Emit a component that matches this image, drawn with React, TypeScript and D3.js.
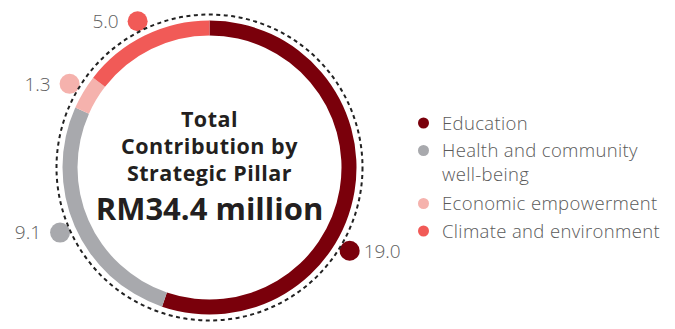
import React from "react";
import * as d3 from "d3";

const categories = ["Education", "Health and community well-being", "Economic empowerment", "Climate and environment"];
const legendLines = [["Education"], ["Health and community", "well-being"], ["Economic empowerment"], ["Climate and environment"]];
const values = [19.0, 9.1, 1.3, 5.0];
const valueLabels = ["19.0", "9.1", "1.3", "5.0"];
const colors = ["#7a000b", "#a8a9ad", "#f5b2ad", "#f15a57"];
const titleLines = ["Total", "Contribution by", "Strategic Pillar"];
const totalLabel = "RM34.4 million";

const W = 675, H = 329;
const cx = 209.5, cy = 167.5;
const outerR = 147, innerR = 132;
const dashR = 153;
const dotDist = 163;
const dotR = 10;

export default function App() {
  const pie = d3.pie<number>().sort(null).value((d) => d)(values);
  const arc = d3.arc<d3.PieArcDatum<number>>().innerRadius(innerR).outerRadius(outerR);
  const font = "'Open Sans', sans-serif";

  const labelAngle = (p: d3.PieArcDatum<number>, i: number) => {
    const f = i === 0 ? 0.607 : 0.5;
    return p.startAngle + (p.endAngle - p.startAngle) * f;
  };

  const legendRows: { y: number; lines: string[]; i: number }[] = [];
  let ly = 123;
  legendLines.forEach((lines, i) => {
    legendRows.push({ y: ly, lines, i });
    ly += lines.length > 1 ? 53 : 27.5;
  });

  return (
    <svg width={W} height={H} style={{ position: "absolute", left: 0, top: 0 }} fontFamily={font}>
      <rect width={W} height={H} fill="#fff" />
      <g transform={`translate(${cx},${cy})`}>
        {pie.map((p, i) => (
          <path key={i} d={arc(p) || ""} fill={colors[i]} />
        ))}
        {pie.map((p, i) => {
          const a = labelAngle(p, i);
          const x = Math.sin(a) * dotDist;
          const y = -Math.cos(a) * dotDist;
          const right = x > 0;
          return (
            <g key={"l" + i}>
              <circle cx={x} cy={y} r={dotR} fill={colors[i]} />
              <text
                x={right ? x + 14 : x - 19}
                y={y}
                dy="0.36em"
                textAnchor={right ? "start" : "end"}
                fontSize={19}
                fontWeight={300}
                fill="#606060"
              >
                {valueLabels[i]}
              </text>
            </g>
          );
        })}
        <circle r={dashR} fill="none" stroke="#222" strokeWidth={2} strokeDasharray="4 3.5" />
        {titleLines.map((t, i) => (
          <text key={t} x={0} y={127 - cy + i * 27} textAnchor="middle" fontSize={21.5} letterSpacing={0.5} fontWeight={700} fill="#231f20">
            {t}
          </text>
        ))}
        <text x={0} y={220 - cy} textAnchor="middle" fontSize={31} fontWeight={700} fill="#231f20">
          {totalLabel}
        </text>
      </g>
      <g>
        {legendRows.map((r) => (
          <g key={r.i}>
            <circle cx={423.5} cy={r.y} r={5.5} fill={colors[r.i]} />
            {r.lines.map((l, j) => (
              <text key={j} x={442} y={r.y + j * 24} dy="0.36em" fontSize={18.5} letterSpacing={0.35} fontWeight={300} fill="#5a5a5a">
                {l}
              </text>
            ))}
          </g>
        ))}
      </g>
    </svg>
  );
}
